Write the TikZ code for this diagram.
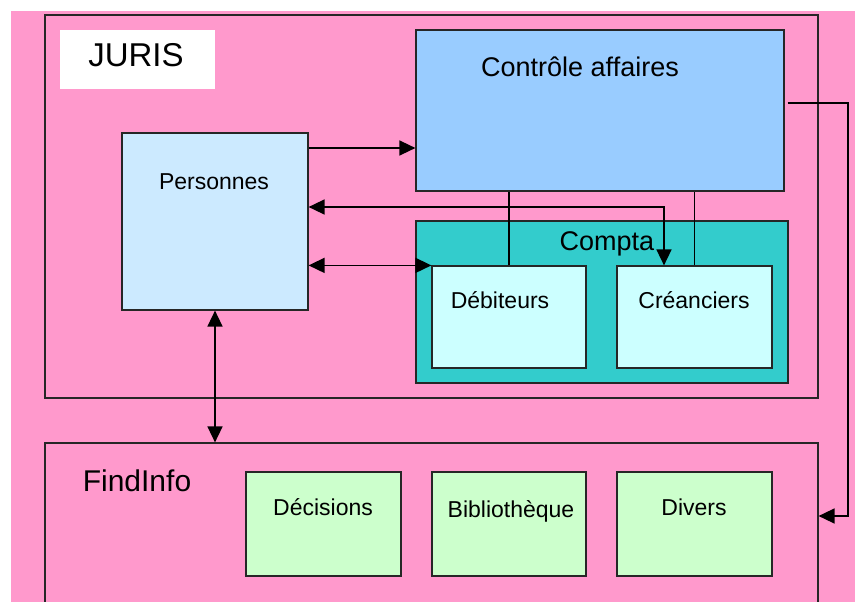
\documentclass[tikz,border=0pt]{standalone}
\usepackage{fontspec}
\setmainfont{Liberation Sans}
\usepackage{tikz}
\usetikzlibrary{positioning,calc,arrows.meta}
\definecolor{bgpink}{RGB}{255,153,204}
\definecolor{ctrlblue}{RGB}{153,204,255}
\definecolor{persblue}{RGB}{204,234,255}
\definecolor{comptateal}{RGB}{51,204,204}
\definecolor{subcyan}{RGB}{204,255,255}
\definecolor{infogreen}{RGB}{204,255,204}

\begin{document}
\begin{tikzpicture}[x=1pt, y=-1pt,
  box/.style={draw=black!85, line width=1.2pt, inner sep=0pt},
  lbl/.style={font=\fontsize{23}{27}\selectfont, inner sep=0pt},
  big/.style={font=\fontsize{27}{32}\selectfont, inner sep=0pt},
  arr/.style={line width=1.6pt, -{Triangle[length=16pt,width=15pt]}},
  dbl/.style={line width=1.6pt, {Triangle[length=16pt,width=15pt]}-{Triangle[length=16pt,width=15pt]}}]
\useasboundingbox (0,0) rectangle (855,602);
\fill[bgpink] (11,11) rectangle (860,610);

% Outer frames
\node[box, minimum width=773pt, minimum height=383pt] (juris) at (431.5,206.5) {};
\node[box, minimum width=773pt, minimum height=170pt] (findinfo) at (431.5,528) {};
\node[fill=white, inner sep=0pt, minimum width=155pt, minimum height=59pt] (jurisbox) at (137.5,59.5) {};
\node[font=\fontsize{33}{38}\selectfont, inner sep=0pt] (juristxt) at (136,55) {JURIS};
\node[font=\fontsize{30}{36}\selectfont, inner sep=0pt] (findtxt) at (137,481) {FindInfo};

% JURIS modules
\node[box, fill=ctrlblue, minimum width=368pt, minimum height=161pt] (ctrl) at (600,110.5) {};
\node[big] (ctrltxt) at (580,67) {Contrôle affaires};
\node[box, fill=persblue, minimum width=186pt, minimum height=177pt] (pers) at (215,221.5) {};
\node[lbl] (perstxt) at (214,182) {Personnes};
\node[box, fill=comptateal, minimum width=372pt, minimum height=162pt] (compta) at (602,302) {};
\node[box, fill=subcyan, minimum width=154pt, minimum height=102pt] (debit) at (509,317) {};
\node[lbl] (debittxt) at (500,300) {Débiteurs};
\node[box, fill=subcyan, minimum width=155pt, minimum height=102pt] (cred) at (694.5,317) {};
\node[lbl] (credtxt) at (694,300) {Créanciers};

% FindInfo modules
\node[box, fill=infogreen, minimum width=155pt, minimum height=104pt] (dec) at (323.5,524) {};
\node[lbl] (dectxt) at (323,507) {Décisions};
\node[box, fill=infogreen, minimum width=154pt, minimum height=104pt] (bib) at (509,524) {};
\node[lbl] (bibtxt) at (511,511) {Bibliothèque};
\node[box, fill=infogreen, minimum width=155pt, minimum height=104pt] (div) at (694.5,524) {};
\node[lbl] (divtxt) at (694,507) {Divers};

% Links
\draw[line width=1.6pt] (debit.north) -- (debit.north |- ctrl.south);
\draw[line width=1.6pt] (cred.north) -- (cred.north |- ctrl.south);
\node[big] (comptatxt) at (607,244) {Compta};
\draw[arr] (pers.east |- 0,148) -- (ctrl.west |- 0,148);
\draw[dbl] (pers.east |- 0,207) -| ([xshift=-30.5pt]cred.north);
\draw[dbl] (pers.east |- debit.north west) -- (debit.north west);
\draw[dbl] (pers.south) -- (pers.south |- findinfo.north);
\draw[arr] ([xshift=3pt]ctrl.east |- 0,103) -- (848,103) |- (findinfo.east |- 0,516);
\end{tikzpicture}
\end{document}
